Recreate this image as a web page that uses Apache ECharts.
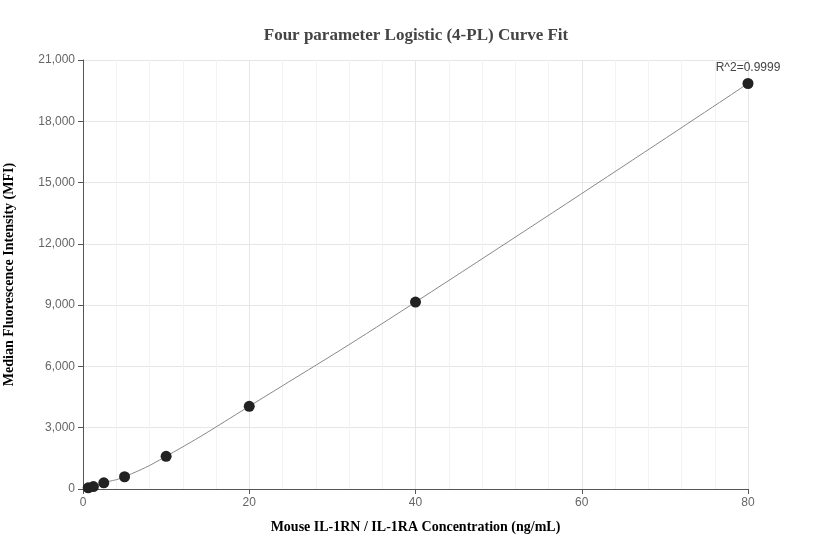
<!DOCTYPE html>
<html>
<head>
<meta charset="utf-8">
<title>4-PL Curve Fit</title>
<script src="https://cdn.jsdelivr.net/npm/echarts@6/dist/echarts.min.js"></script>
</head>
<body style="margin:0">
<div id="main" style="width:832px;height:560px"></div>
<script>
var concentrations = [0.625, 1.25, 2.5, 5, 10, 20, 40, 80];
var mfiValues = [60, 120, 300, 600, 1600, 4050, 9150, 19850];
var rSquaredLabel = 'R^2=0.9999';

var pts = concentrations.map(function (c, i) { return [c, mfiValues[i]]; });

var chart = echarts.init(document.getElementById('main'));
chart.setOption({
    animation: false,
    title: {
        text: 'Four parameter Logistic (4-PL) Curve Fit',
        left: 'center', top: 22,
        textStyle: { fontFamily: 'Liberation Serif', fontSize: 17, fontWeight: 'bold', color: '#444' }
    },
    grid: { left: 83, right: 84, top: 60, bottom: 71, containLabel: false, outerBoundsMode: 'none' },
    xAxis: {
        type: 'value', min: 0, max: 80, interval: 20,
        name: 'Mouse IL-1RN / IL-1RA Concentration (ng/mL)',
        nameLocation: 'middle', nameGap: 31,
        nameTextStyle: { fontFamily: 'Liberation Serif', fontSize: 14, fontWeight: 'bold', color: '#000' },
        axisLine: { lineStyle: { color: '#555' } },
        axisTick: { show: true, lineStyle: { color: '#555' } },
        axisLabel: { color: '#666', fontSize: 12 },
        splitLine: { lineStyle: { color: '#e6e6e6' } },
        minorTick: { show: false, splitNumber: 5 },
        minorSplitLine: { show: true, lineStyle: { color: '#f3f3f3' } }
    },
    yAxis: {
        type: 'value', min: 0, max: 21000, interval: 3000,
        name: 'Median Fluorescence Intensity (MFI)',
        nameLocation: 'middle', nameGap: 67,
        nameTextStyle: { fontFamily: 'Liberation Serif', fontSize: 14, fontWeight: 'bold', color: '#000' },
        axisLine: { show: true, lineStyle: { color: '#555' } },
        axisTick: { show: true, lineStyle: { color: '#555' } },
        axisLabel: { color: '#666', fontSize: 12, formatter: function (v) { return v.toLocaleString('en-US'); } },
        splitLine: { lineStyle: { color: '#e6e6e6' } }
    },
    series: [
        {
            type: 'line', data: pts, smooth: true, showSymbol: false,
            lineStyle: { color: '#888', width: 1 }, z: 1
        },
        {
            type: 'scatter', data: pts, symbolSize: 11,
            itemStyle: { color: '#222', opacity: 1 }, z: 2,
            label: {
                show: true, position: 'top', distance: 4, color: '#444', fontSize: 12,
                formatter: function (p) { return p.dataIndex === pts.length - 1 ? rSquaredLabel : ''; }
            }
        }
    ]
});
</script>
</body>
</html>
